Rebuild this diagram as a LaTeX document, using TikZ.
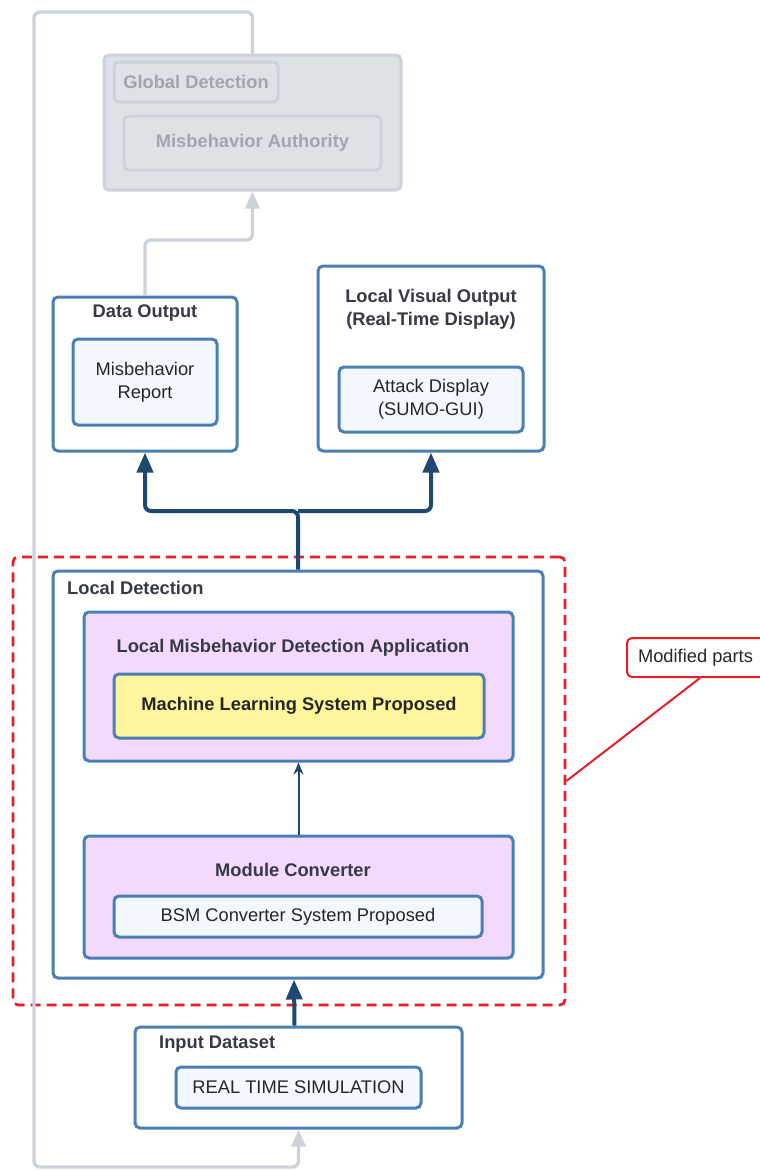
\documentclass[tikz,border=0pt]{standalone}
\usepackage{fontspec}
\setmainfont{Liberation Sans}
\usetikzlibrary{arrows.meta}
\definecolor{boxblue}{RGB}{74,127,181}
\definecolor{paleblue}{RGB}{243,248,254}
\definecolor{lilac}{RGB}{243,217,251}
\definecolor{mlyellow}{RGB}{255,245,157}
\definecolor{navy}{RGB}{30,72,112}
\definecolor{loopgray}{RGB}{205,210,218}
\definecolor{gfill}{RGB}{222,225,230}
\definecolor{gtext}{RGB}{160,166,176}
\definecolor{modred}{RGB}{232,30,37}
\definecolor{titlegray}{RGB}{55,58,70}
\begin{document}
\begin{tikzpicture}[x=1pt,y=-1pt,
  font=\fontsize{18.3}{23}\selectfont,
  outerbox/.style={draw=boxblue,line width=3pt,rounded corners=5pt,fill=white,inner sep=0pt},
  innerbox/.style={outerbox,fill=paleblue,text=black!85,align=center},
  appbox/.style={outerbox,fill=lilac},
  globbox/.style={draw=loopgray,line width=3pt,rounded corners=5pt,fill=gfill,inner sep=0pt,text=gtext,font=\fontsize{18.3}{23}\selectfont\bfseries},
  title/.style={text=titlegray,font=\fontsize{18.3}{23}\selectfont\bfseries,align=center,inner sep=0pt},
  navyarrow/.style={draw=navy,line width=4pt,rounded corners=6pt,-{Triangle[length=20pt,width=16pt]}},
  grayline/.style={draw=loopgray,line width=3.4pt,rounded corners=6pt,-{Triangle[length=17pt,width=14pt]}},
  redline/.style={draw=modred,line width=2pt}]
\useasboundingbox (0,0) rectangle (760,1171);

% global detection (greyed out)
\node[globbox,minimum width=297,minimum height=135] (global) at (252.5,122.5) {};
\node[globbox,minimum width=164,minimum height=40] (globtitle) at (196,82) {Global Detection};
\node[globbox,minimum width=257,minimum height=54] (authority) at (252.5,143) {Misbehavior Authority};

% outputs
\node[outerbox,minimum width=184,minimum height=154] (dataout) at (145,374) {};
\node[title] (dotitle) at (145,313) {Data Output};
\node[innerbox,minimum width=144,minimum height=86] (report) at (145,382) {Misbehavior\\Report};
\node[outerbox,minimum width=226,minimum height=185] (visout) at (431,358.5) {};
\node[title] (vistitle) at (431,309) {Local Visual Output\\(Real-Time Display)};
\node[innerbox,minimum width=184,minimum height=65] (display) at (431,399.5) {Attack Display\\(SUMO-GUI)};

% modified region
\node[draw=modred,dash pattern=on 10pt off 6pt,line width=2.8pt,rounded corners=5pt,minimum width=552,minimum height=448] (modregion) at (289,781) {};
\node[draw=modred,line width=2pt,rounded corners=5pt,fill=white,minimum width=150,minimum height=39,text=black!85,anchor=west,inner sep=0pt] (callout) at (626,657.5) {\hspace*{-13pt}Modified parts};
\draw[redline] (callout.south -| 700,0) -- (modregion.east);

% local detection
\node[outerbox,minimum width=490,minimum height=407] (localdet) at (298,774.5) {};
\node[title,anchor=west] (ldtitle) at (67,588) {Local Detection};
\node[appbox,minimum width=429,minimum height=149] (lmda) at (298.5,686.5) {};
\node[title] (lmdatitle) at (293,648) {Local Misbehavior Detection Application};
\node[outerbox,fill=mlyellow,minimum width=370,minimum height=64,font=\fontsize{18.3}{23}\selectfont\bfseries,text=black!85] (mlsys) at (299,706) {Machine Learning System Proposed};
\node[appbox,minimum width=429,minimum height=122] (modconv) at (298.5,897) {};
\node[title] (mctitle) at (293,870) {Module Converter};
\node[innerbox,minimum width=368,minimum height=41] (bsm) at (298,916.5) {BSM Converter System Proposed};
\draw[draw=navy,line width=2pt,-{Stealth[length=12pt,width=10pt]}] (modconv.north) -- (lmda.south);

% input
\node[outerbox,minimum width=327,minimum height=101] (input) at (298.5,1077.5) {};
\node[title,anchor=west] (intitle) at (159,1044) {Input Dataset};
\node[innerbox,minimum width=245,minimum height=41] (rts) at (298.5,1087.5) {REAL TIME SIMULATION};

% connectors
\coordinate (split) at (298,511);
\draw[navyarrow] (localdet.north) -- (split) -| (dataout.south);
\draw[navyarrow] (split) -| (visout.south);
\draw[navyarrow] ([xshift=-4pt]input.north) -- ([xshift=-4pt]localdet.south);
\coordinate (bend) at (145,240);
\draw[grayline] (dataout.north) -- (bend) -| (global.south);
\coordinate (looptop) at (34,12);
\coordinate (loopbot) at (34,1167);
\draw[grayline] (global.north) |- (looptop) -- (loopbot) -| (input.south);
\end{tikzpicture}
\end{document}
